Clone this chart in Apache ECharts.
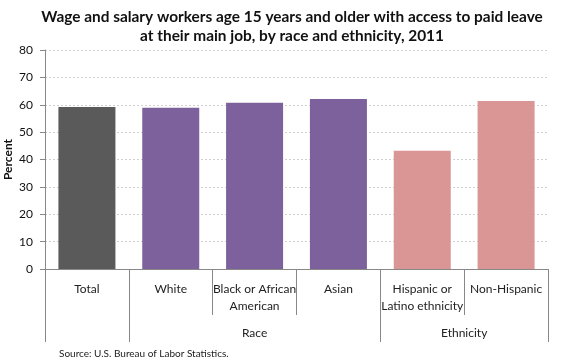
<!DOCTYPE html>
<html><head><meta charset="utf-8">
<script src="https://cdn.jsdelivr.net/npm/echarts@6/dist/echarts.min.js"></script>
<style>html,body{margin:0;padding:0;background:#fff}#c{width:580px;height:360px}</style>
</head><body><div id="c"></div>
<script>
var categories = ['Total', 'White', 'Black or African\nAmerican', 'Asian', 'Hispanic or\nLatino ethnicity', 'Non-Hispanic'];
var values = [59.2, 58.9, 60.7, 62.1, 43.2, 61.4];
var barColors = ['#5a5a5a', '#7c619c', '#7c619c', '#7c619c', '#d99694', '#d99694'];
var groupNames = ['Race', 'Ethnicity'];
var groupCenters = [2.5, 5];
var groupBounds = [0, 1, 4, 6];
var yTicks = [0, 10, 20, 30, 40, 50, 60, 70, 80];

var FONT = 'Lato';
var chart = echarts.init(document.getElementById('c'));
chart.setOption({
  animation: false,
  title: [{
    text: 'Wage and salary workers age 15 years and older with access to paid leave\nat their main job, by race and ethnicity, 2011',
    left: 287, top: 3, textAlign: 'center',
    textStyle: {fontFamily: FONT, fontWeight: 'bold', fontSize: 15.4, lineHeight: 19, color: '#111', align: 'center'}
  }, {
    text: 'Source: U.S. Bureau of Labor Statistics.',
    left: 54, top: 344,
    textStyle: {fontFamily: FONT, fontWeight: 'normal', fontSize: 10, color: '#222'}
  }],
  grid: {left: 45, right: 32, top: 50, bottom: 91, containLabel: false, outerBoundsMode: 'none'},
  xAxis: [{
    type: 'category',
    data: categories,
    axisLine: {lineStyle: {color: '#888'}},
    axisTick: {show: true, length: 46, lineStyle: {color: '#888'}, interval: 0},
    axisLabel: {interval: 0, margin: 12, fontFamily: FONT, fontSize: 12, lineHeight: 17, color: '#222'}
  }, {
    type: 'value',
    min: 0, max: 6,
    position: 'bottom',
    offset: 46,
    axisLine: {show: false},
    splitLine: {show: false},
    axisTick: {show: true, length: 27, customValues: groupBounds, lineStyle: {color: '#888'}},
    axisLabel: {
      customValues: groupCenters, margin: 12, fontFamily: FONT, fontSize: 12, color: '#222',
      formatter: function (v) { var i = groupCenters.indexOf(v); return i >= 0 ? groupNames[i] : ''; }
    }
  }],
  yAxis: {
    type: 'value', min: 0, max: 80, interval: 10,
    name: 'Percent', nameLocation: 'middle', nameGap: 31, nameRotate: 90, nameMoveOverlap: false,
    nameTextStyle: {fontFamily: FONT, fontWeight: 'bold', fontSize: 12, color: '#111'},
    axisLine: {show: true, lineStyle: {color: '#888'}},
    axisTick: {show: true, length: 5, lineStyle: {color: '#888'}},
    axisLabel: {margin: 12, fontFamily: FONT, fontSize: 12, color: '#111',
      formatter: function (v) { return yTicks.indexOf(v) >= 0 ? String(v) : ''; }},
    splitLine: {show: true, lineStyle: {color: '#cfcfcf', type: [2, 2], width: 1}}
  },
  series: [{
    type: 'bar',
    xAxisIndex: 0,
    data: values.map(function (v, i) { return {value: v, itemStyle: {color: barColors[i]}}; }),
    barCategoryGap: '32%'
  }]
});
</script></body></html>
